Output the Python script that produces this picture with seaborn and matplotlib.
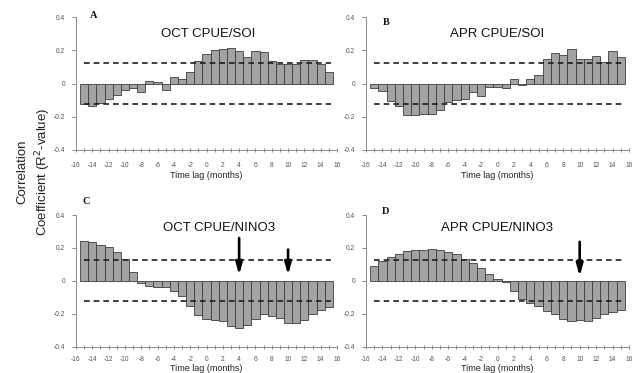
import matplotlib
matplotlib.use("Agg")
import matplotlib.pyplot as plt
import seaborn as sns
import pandas as pd
import numpy as np

sns.set_theme(style="white")
plt.rcParams['font.family'] = ['Liberation Sans', 'DejaVu Sans']

# ---------------- data ----------------
lags = list(range(-15, 16))
oct_soi = [-0.126, -0.138, -0.12, -0.095, -0.07, -0.042, -0.03, -0.05, 0.017, 0.008, -0.042,
           0.038, 0.03, 0.067, 0.137, 0.18, 0.2, 0.206, 0.213, 0.194, 0.162, 0.194, 0.19,
           0.137, 0.116, 0.116, 0.12, 0.143, 0.139, 0.12, 0.07]
apr_soi = [-0.025, -0.045, -0.105, -0.135, -0.19, -0.19, -0.185, -0.185, -0.16, -0.11, -0.1,
           -0.095, -0.05, -0.075, -0.02, -0.02, -0.03, 0.025, -0.01, 0.025, 0.05, 0.145,
           0.185, 0.17, 0.205, 0.15, 0.145, 0.165, 0.13, 0.195, 0.16]
oct_nino3 = [0.24, 0.235, 0.22, 0.205, 0.175, 0.13, 0.055, -0.015, -0.03, -0.035, -0.04,
             -0.065, -0.095, -0.155, -0.21, -0.235, -0.24, -0.245, -0.275, -0.29, -0.27,
             -0.235, -0.2, -0.215, -0.225, -0.26, -0.255, -0.24, -0.2, -0.18, -0.16]
apr_nino3 = [0.09, 0.12, 0.145, 0.165, 0.18, 0.19, 0.185, 0.195, 0.19, 0.175, 0.165, 0.13,
             0.11, 0.075, 0.04, 0.01, -0.01, -0.065, -0.11, -0.135, -0.155, -0.185, -0.2,
             -0.23, -0.245, -0.24, -0.245, -0.225, -0.2, -0.19, -0.18]
series = [oct_soi, apr_soi, oct_nino3, apr_nino3]
titles = ["OCT CPUE/SOI", "APR CPUE/SOI", "OCT CPUE/NINO3", "APR CPUE/NINO3"]
letters = ["A", "B", "C", "D"]
threshold = 0.124
threshold_span = [-15, 15.3]
# arrows: (lag, start value, tip value)
arrows = [[], [], [(4, 0.26, 0.035), (10, 0.19, 0.035)], [(10, 0.237, 0.027)]]
xticks_major = list(range(-16, 17, 2))
xticks_minor = list(range(-16, 17))
yticks = [-0.4, -0.2, 0, 0.2, 0.4]
ytick_labels = ["-0.4", "-0.2", "0", "0.2", "0.4"]

# ---------------- layout ----------------
fig = plt.figure(figsize=(6.4, 3.73), dpi=100)
rects = [
    [76/640, 1-150/373, 261/640, 133/373],
    [366/640, 1-150/373, 263/640, 133/373],
    [76/640, 1-346.5/373, 261/640, 131.5/373],
    [366/640, 1-346.5/373, 263/640, 131.5/373],
]
title_pos = [(0.505, 0.875), (0.498, 0.872), (0.548, 0.898), (0.498, 0.898)]
letter_pos = [(0.066, 1.01), (0.076, 0.957), (0.041, 1.099), (0.076, 1.03)]
xtick_pad = [7, 7, 5.5, 5.5]
xlabel_pad = [1.5, 1.5, 0.3, 0.3]

for i in range(4):
    ax = fig.add_axes(rects[i])
    df = pd.DataFrame({"lag": lags, "r": series[i]})
    sns.barplot(data=df, x="lag", y="r", native_scale=True, width=1.0,
                color="#a3a3a3", saturation=1, edgecolor="#3c3c3c", linewidth=0.6,
                ax=ax, zorder=2)
    for p in ax.patches:
        p.set_facecolor("#a3a3a3")
    for s in (1, -1):
        ax.plot(threshold_span, [s*threshold, s*threshold], color="#1e1e1e",
                lw=1.2, ls=(0, (3.4, 2.4)), zorder=4)
    for (lag, y0, y1) in arrows[i]:
        ax.annotate("", xy=(lag, y1), xytext=(lag, y0),
                    arrowprops=dict(arrowstyle="-|>,head_length=0.9,head_width=0.25",
                                    color="black", lw=1.9,
                                    mutation_scale=8, shrinkA=0, shrinkB=0),
                    zorder=5)
    ax.set_xlim(-16, 16)
    ax.set_ylim(-0.4, 0.4)
    ax.set_xticks(xticks_major)
    ax.set_xticks(xticks_minor, minor=True)
    ax.set_xticklabels([str(t) for t in xticks_major])
    ax.set_yticks(yticks)
    ax.set_yticklabels(ytick_labels)
    ax.tick_params(axis="x", which="both", direction="inout", length=3, width=0.6,
                   color="#777777", labelsize=4.8, labelcolor="#555555",
                   pad=xtick_pad[i], bottom=True)
    ax.tick_params(axis="y", direction="out", length=3, width=0.6, color="#777777",
                   labelsize=4.8, labelcolor="#555555", pad=5, left=True)
    for sp in ("top", "right"):
        ax.spines[sp].set_visible(False)
    for sp in ("left", "bottom"):
        ax.spines[sp].set_color("#8a8a8a")
        ax.spines[sp].set_linewidth(0.7)
    ax.set_xlabel("Time lag (months)", fontsize=6.5, labelpad=xlabel_pad[i], color="#222222")
    ax.set_ylabel("")
    ax.text(title_pos[i][0], title_pos[i][1], titles[i], transform=ax.transAxes,
            ha="center", va="center", fontsize=9.5, color="#111111")
    ax.text(letter_pos[i][0], letter_pos[i][1], letters[i], transform=ax.transAxes,
            ha="center", va="center", fontsize=7.5, fontweight="bold",
            family=["Liberation Serif", "DejaVu Serif"], clip_on=False, color="#111111")

fig.text(0.054, 0.539, "Correlation\nCoefficient (R$^2$-value)", rotation=90,
         ha="center", va="center", fontsize=9.5, linespacing=1.35, color="#222222")

fig.savefig("out.png", dpi=100)
